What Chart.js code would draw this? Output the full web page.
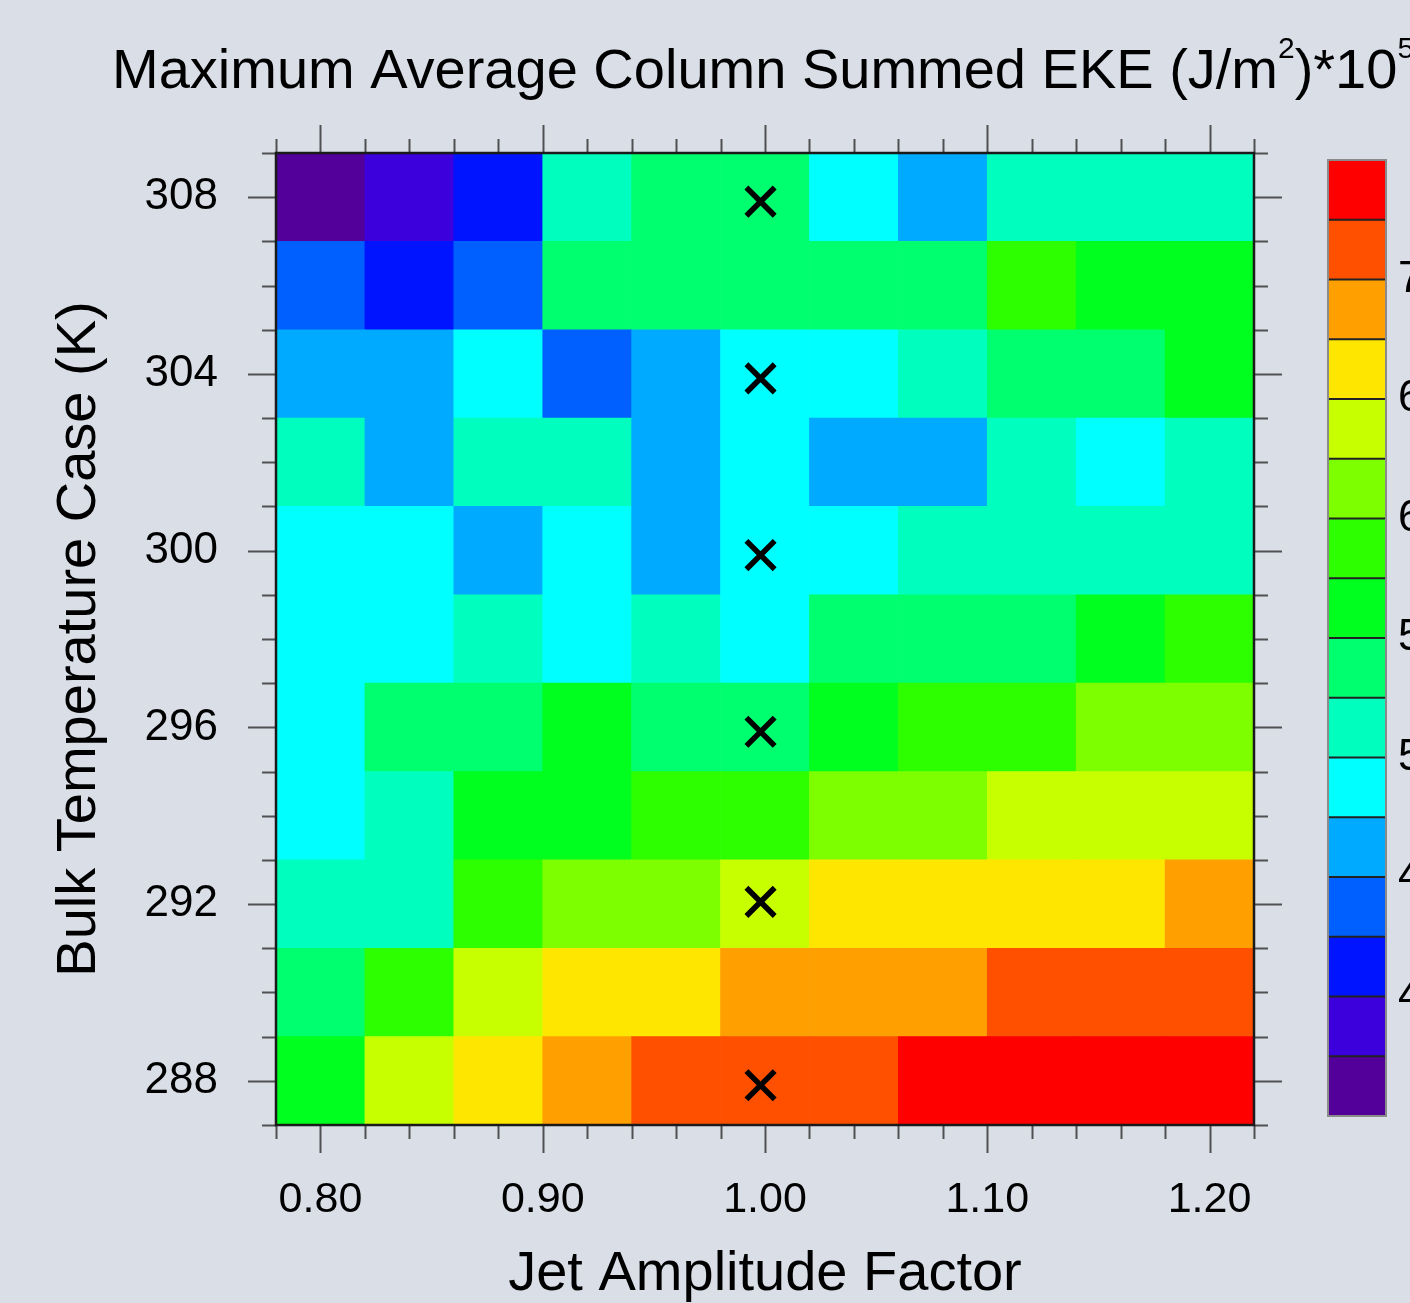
<!DOCTYPE html>
<html>
<head>
<meta charset="utf-8">
<title>Maximum Average Column Summed EKE</title>
<script src="https://cdn.jsdelivr.net/npm/chart.js@4.4.0/dist/chart.umd.min.js"></script>
<style>
  html, body { margin: 0; padding: 0; background: #d9dee7; }
  #wrap { position: relative; width: 1410px; height: 1303px; }
</style>
</head>
<body>
<div id="wrap"><canvas id="ekeChart"></canvas></div>
<script>
// cell centres on each axis
const jetFactors = [0.80, 0.84, 0.88, 0.92, 0.96, 1.00, 1.04, 1.08, 1.12, 1.16, 1.20];
const bulkTemps = [308, 306, 304, 302, 300, 298, 296, 294, 292, 290, 288];

// EKE (J/m^2 * 1e5) per row
const eke308 = [3.6, 3.9, 4.1, 5.1, 5.4, 5.4, 4.9, 4.6, 5.1, 5.1, 5.1];
const eke306 = [4.4, 4.1, 4.4, 5.4, 5.4, 5.4, 5.4, 5.4, 5.9, 5.6, 5.6];
const eke304 = [4.6, 4.6, 4.9, 4.4, 4.6, 4.9, 4.9, 5.1, 5.4, 5.4, 5.6];
const eke302 = [5.1, 4.6, 5.1, 5.1, 4.6, 4.9, 4.6, 4.6, 5.1, 4.9, 5.1];
const eke300 = [4.9, 4.9, 4.6, 4.9, 4.6, 4.9, 4.9, 5.1, 5.1, 5.1, 5.1];
const eke298 = [4.9, 4.9, 5.1, 4.9, 5.1, 4.9, 5.4, 5.4, 5.4, 5.6, 5.9];
const eke296 = [4.9, 5.4, 5.4, 5.6, 5.4, 5.4, 5.6, 5.9, 5.9, 6.1, 6.1];
const eke294 = [4.9, 5.1, 5.6, 5.6, 5.9, 5.9, 6.1, 6.1, 6.4, 6.4, 6.4];
const eke292 = [5.1, 5.1, 5.9, 6.1, 6.1, 6.4, 6.6, 6.6, 6.6, 6.6, 6.9];
const eke290 = [5.4, 5.9, 6.4, 6.6, 6.6, 6.9, 6.9, 6.9, 7.1, 7.1, 7.1];
const eke288 = [5.6, 6.4, 6.6, 6.9, 7.1, 7.1, 7.1, 7.4, 7.4, 7.4, 7.4];
const ekeRows = [eke308, eke306, eke304, eke302, eke300, eke298, eke296, eke294, eke292, eke290, eke288];

// contour levels and colours (bottom to top of the colour bar)
const levels = [3.75, 4.0, 4.25, 4.5, 4.75, 5.0, 5.25, 5.5, 5.75, 6.0, 6.25, 6.5, 6.75, 7.0, 7.25];
const palette = [
  '#520099', '#3c00dc', '#0014ff', '#0060ff', '#00aaff', '#00ffff', '#00ffbe', '#00ff6e',
  '#00ff1e', '#2dff00', '#7dff00', '#c8ff00', '#ffe600', '#ffa000', '#ff5000', '#ff0000'
];
const barLabels = ['4.0', '4.5', '5.0', '5.5', '6.0', '6.5', '7.0'];

// tick labels
const xTickVals = [0.80, 0.90, 1.00, 1.10, 1.20];
const yTickVals = [288, 292, 296, 300, 304, 308];

// marked runs (x symbols)
const markJet = [0.998, 0.998, 0.998, 0.998, 0.998, 0.998];
const markTemp = [307.9, 303.9, 299.9, 295.9, 292.05, 287.9];

const FONT = '"Liberation Sans", Arial, Helvetica, sans-serif';

function colorFor(v) {
  let i = 0;
  while (i < levels.length && v >= levels[i]) i++;
  return palette[i];
}

// frame, tick marks, colour bar and title
const ncarDecor = {
  id: 'ncarDecor',
  afterDraw(chart) {
    const ctx = chart.ctx;
    const {left, right, top, bottom} = chart.chartArea;
    const xs = chart.scales.x, ys = chart.scales.y;
    ctx.save();

    // tick marks on all four sides
    ctx.strokeStyle = '#505050';
    ctx.lineWidth = 2;
    ctx.beginPath();
    for (let i = 0; i <= 22; i++) {
      const px = Math.round(xs.getPixelForValue(0.78 + i * 0.02)) + 0.5;
      const len = (i - 1) % 5 === 0 ? 28 : 14;
      ctx.moveTo(px, top); ctx.lineTo(px, top - len);
      ctx.moveTo(px, bottom); ctx.lineTo(px, bottom + len);
    }
    for (let t = 287; t <= 309; t++) {
      const py = Math.round(ys.getPixelForValue(t)) + 0.5;
      const len = (t - 288) % 4 === 0 ? 28 : 14;
      ctx.moveTo(left, py); ctx.lineTo(left - len, py);
      ctx.moveTo(right, py); ctx.lineTo(right + len, py);
    }
    ctx.stroke();

    // plot frame
    ctx.strokeStyle = '#1a1a1a';
    ctx.lineWidth = 2.5;
    ctx.strokeRect(left, top, right - left, bottom - top);

    // colour bar
    const cbL = 1328, cbR = 1386, cbT = 160, cbB = 1116;
    const boxH = (cbB - cbT) / palette.length;
    palette.forEach((c, i) => {
      ctx.fillStyle = c;
      ctx.fillRect(cbL, cbB - (i + 1) * boxH, cbR - cbL, boxH + 0.5);
    });
    ctx.strokeStyle = '#222';
    ctx.lineWidth = 2;
    ctx.beginPath();
    for (let i = 1; i < palette.length; i++) {
      const py = cbB - i * boxH;
      ctx.moveTo(cbL, py); ctx.lineTo(cbR, py);
    }
    ctx.stroke();
    ctx.strokeStyle = '#8a8a8a';
    ctx.strokeRect(cbL, cbT, cbR - cbL, cbB - cbT);

    // labels sit on every second level boundary (4.0 is the 2nd boundary)
    ctx.fillStyle = '#000';
    ctx.font = '44px ' + FONT;
    ctx.textAlign = 'left';
    ctx.textBaseline = 'middle';
    barLabels.forEach((lab, k) => {
      const py = cbB - (2 * k + 2) * boxH;
      ctx.fillText(lab, 1398, py);
    });

    // title with superscripts
    ctx.textBaseline = 'alphabetic';
    let tx = 112;
    const parts = [
      ['Maximum Average Column Summed EKE (J/m', 56, 88],
      ['2', 30, 58],
      [')*10', 56, 88],
      ['5', 30, 58]
    ];
    parts.forEach(([txt, size, base]) => {
      ctx.font = size + 'px ' + FONT;
      ctx.fillText(txt, tx, base);
      tx += ctx.measureText(txt).width;
    });
    ctx.restore();
  }
};

document.addEventListener('DOMContentLoaded', function() {
  createChart();
});

function createChart() {
  // one floating bar per grid cell
  const cells = [];
  const cellColors = [];
  bulkTemps.forEach((t, r) => {
    jetFactors.forEach((j, c) => {
      const v = ekeRows[r][c];
      cells.push({x: j, y: [t - 1, t + 1]});
      cellColors.push(colorFor(v));
    });
  });

  const marks = markJet.map((j, i) => ({x: j, y: markTemp[i]}));

  const ctx = document.getElementById('ekeChart').getContext('2d');
  new Chart(ctx, {
    type: 'bar',
    data: {
      datasets: [
        {
          type: 'scatter',
          data: marks,
          pointStyle: 'crossRot',
          pointRadius: 20,
          borderWidth: 5.5,
          borderColor: '#000',
          backgroundColor: '#000',
          order: 0
        },
        {
          type: 'bar',
          data: cells,
          backgroundColor: cellColors,
          borderWidth: 0,
          barPercentage: 1,
          categoryPercentage: 1,
          grouped: false,
          order: 1
        }
      ]
    },
    options: {
      responsive: true,
      maintainAspectRatio: false,
      animation: false,
      layout: { padding: { left: 0, right: 156, top: 153, bottom: 0 } },
      plugins: {
        legend: { display: false },
        tooltip: { enabled: false }
      },
      scales: {
        x: {
          type: 'linear',
          min: 0.78,
          max: 1.22,
          offset: false,
          afterBuildTicks: s => { s.ticks = xTickVals.map(v => ({value: v})); },
          afterFit: s => { s.height = 178; },
          grid: { display: false, drawTicks: false },
          border: { display: false },
          ticks: {
            padding: 49,
            color: '#000',
            font: { size: 43, family: FONT },
            maxRotation: 0,
            autoSkip: false,
            callback: v => v.toFixed(2)
          },
          title: {
            display: true,
            text: 'Jet Amplitude Factor',
            color: '#000',
            font: { size: 56, family: FONT },
            padding: { top: 0, bottom: -5 }
          }
        },
        y: {
          type: 'linear',
          min: 287,
          max: 309,
          afterBuildTicks: s => { s.ticks = yTickVals.map(v => ({value: v})); },
          afterFit: s => { s.width = 276; },
          grid: { display: false, drawTicks: false },
          border: { display: false },
          ticks: {
            padding: 58,
            color: '#000',
            font: { size: 44, family: FONT },
            autoSkip: false,
            callback: v => String(v)
          },
          title: {
            display: true,
            text: 'Bulk Temperature Case (K)',
            color: '#000',
            font: { size: 56, family: FONT },
            padding: { top: 46, bottom: 0 }
          }
        }
      }
    },
    plugins: [ncarDecor]
  });
}
</script>
</body>
</html>
